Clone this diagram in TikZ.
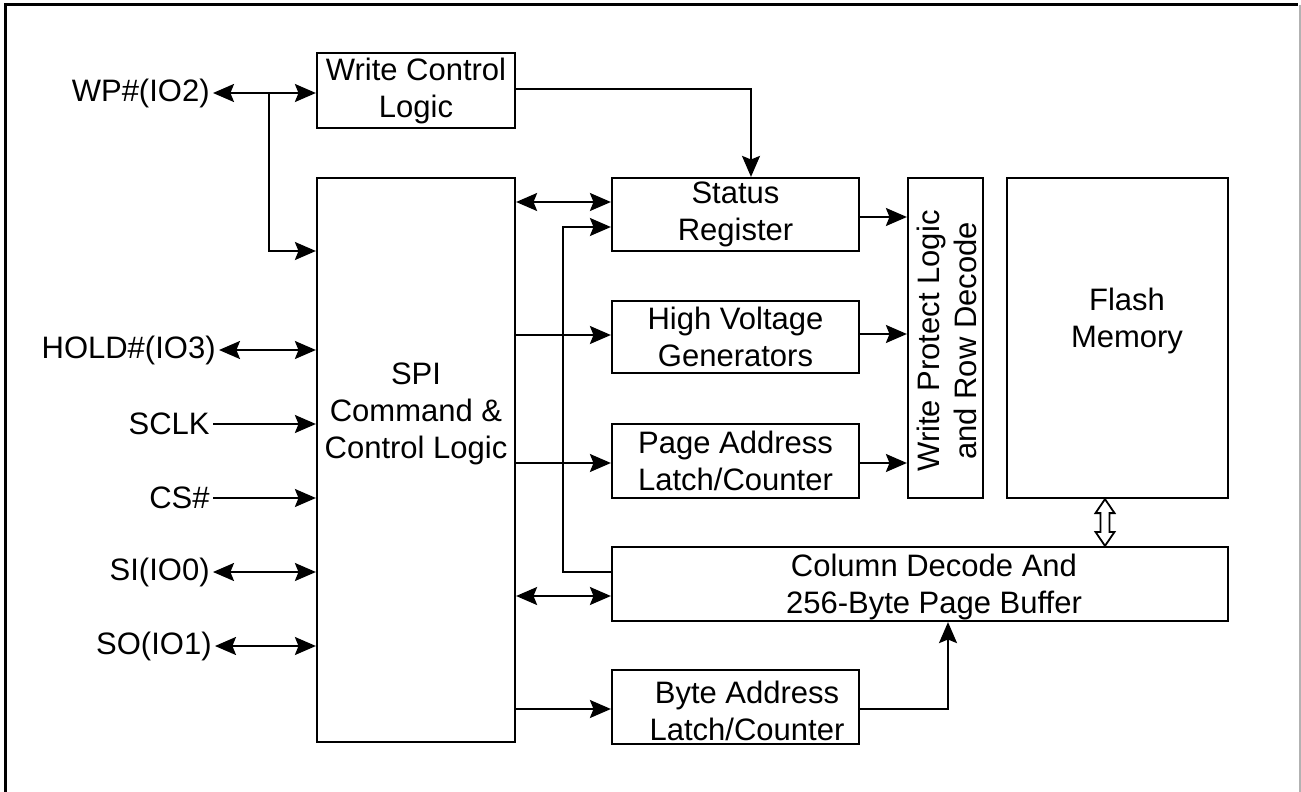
\documentclass[tikz,border=0pt]{standalone}
\usepackage{fontspec}
\setmainfont{Liberation Sans}
\usetikzlibrary{arrows.meta,calc}
\begin{document}
\begin{tikzpicture}[x=0.5pt,y=-0.5pt,
  font=\fontsize{15.5}{18.5}\selectfont,
  box/.style={draw,line width=1.1pt,rectangle,inner sep=0pt,align=center},
  lab/.style={inner xsep=1.5pt,inner ysep=0pt,anchor=east},
  wire/.style={line width=1pt},
  ar/.style={wire,-{Stealth[length=10.5pt,width=9pt,inset=1.8pt]}},
  biar/.style={wire,{Stealth[length=10.5pt,width=9pt,inset=1.8pt]}-{Stealth[length=10.5pt,width=9pt,inset=1.8pt]}}]
\useasboundingbox (0,0) rectangle (1301,792);
\fill[white] (0,0) rectangle (1301,792);
% frame
\draw[line width=1.5pt] (5,792) -- (5,5) -- (1298,5);
\draw[gray!60,line width=0.7pt] (1300,5) -- (1300,792);
% boxes
\node[box,minimum width=99pt,minimum height=37.5pt] (wcl) at (416,90.5) {Write Control\\Logic};
\node[box,minimum width=99pt,minimum height=282pt] (spi) at (416,460) {};
\node[align=center,inner sep=0pt] (spitxt) at (416,414) {SPI\\Command \&\\Control Logic};
\node[box,minimum width=123.5pt,minimum height=36.5pt] (status) at (735.5,214.5) {Status\\Register};
\node[box,minimum width=123.5pt,minimum height=36pt] (hv) at (735.5,337) {High Voltage\\Generators};
\node[box,minimum width=123.5pt,minimum height=37pt] (pa) at (735.5,461) {Page Address\\Latch/Counter};
\node[box,minimum width=37.5pt,minimum height=160pt] (wp) at (945.5,338) {};
\node[rotate=90,align=center,inner sep=0pt] (wptxt) at (947,341) {Write Protect Logic\\and Row Decode};
\node[box,minimum width=110.5pt,minimum height=160pt] (flash) at (1117.5,338) {};
\node[align=center,inner sep=0pt] (flashtxt) at (1127,321) {Flash\\Memory};
\node[box,minimum width=308pt,minimum height=37pt] (col) at (920,584) {};
\node[align=center,inner sep=0pt] (coltxt) at (934,587) {Column Decode And\\256-Byte Page Buffer};
\node[box,minimum width=123.5pt,minimum height=37pt] (ba) at (735.5,707) {};
\node[align=center,inner sep=0pt] (batxt) at (747,711) {Byte Address\\Latch/Counter};
% pin labels
\node[lab] (wplab) at (213,93) {WP\#(IO2)};
\node[lab] (hold) at (219,350) {HOLD\#(IO3)};
\node[lab] (sclk) at (213,424) {SCLK};
\node[lab] (cs) at (213,498) {CS\#};
\node[lab] (si) at (213,572) {SI(IO0)};
\node[lab] (so) at (215,646) {SO(IO1)};
% pin connectors
\coordinate (j1) at (269,93);
\draw[biar] (wplab.east) -- (wplab.east -| wcl.west);
\draw[ar] (j1) |- (spi.west |- 0,251);
\draw[biar] (hold.east) -- (hold.east -| spi.west);
\draw[ar] (sclk.east) -- (sclk.east -| spi.west);
\draw[ar] (cs.east) -- (cs.east -| spi.west);
\draw[biar] (si.east) -- (si.east -| spi.west);
\draw[biar] (so.east) -- (so.east -| spi.west);
% internal connectors
\draw[ar] (wcl.east |- 0,89) -| (status.north -| 751,0);
\draw[biar] (spi.east |- 0,202) -- (status.west |- 0,202);
\draw[ar] (col.west |- 0,572) -- (563,572) -- (563,227) -- (status.west |- 0,227);
\draw[ar] (spi.east |- 0,335) -- (hv.west |- 0,335);
\draw[ar] (spi.east |- 0,463) -- (pa.west |- 0,463);
\draw[biar] (spi.east |- 0,596) -- (col.west |- 0,596);
\draw[ar] (spi.east |- 0,709) -- (ba.west |- 0,709);
\draw[ar] (status.east |- 0,217) -- (wp.west |- 0,217);
\draw[ar] (hv.east |- 0,334) -- (wp.west |- 0,334);
\draw[ar] (pa.east |- 0,463) -- (wp.west |- 0,463);
\draw[ar] (ba.east |- 0,709) -| (col.south -| 948,0);
% hollow double arrow between flash and column decode
\coordinate (ht) at (flash.south -| 1105,0);
\coordinate (hb) at (col.north -| 1105,0);
\draw[line width=0.9pt,fill=white,line join=miter]
  (ht) -- ($(ht)+(9.5,14)$) -- ($(ht)+(4.5,14)$) -- ($(hb)+(4.5,-14)$) -- ($(hb)+(9.5,-14)$)
  -- (hb) -- ($(hb)+(-9.5,-14)$) -- ($(hb)+(-4.5,-14)$) -- ($(ht)+(-4.5,14)$) -- ($(ht)+(-9.5,14)$) -- cycle;
\end{tikzpicture}
\end{document}
